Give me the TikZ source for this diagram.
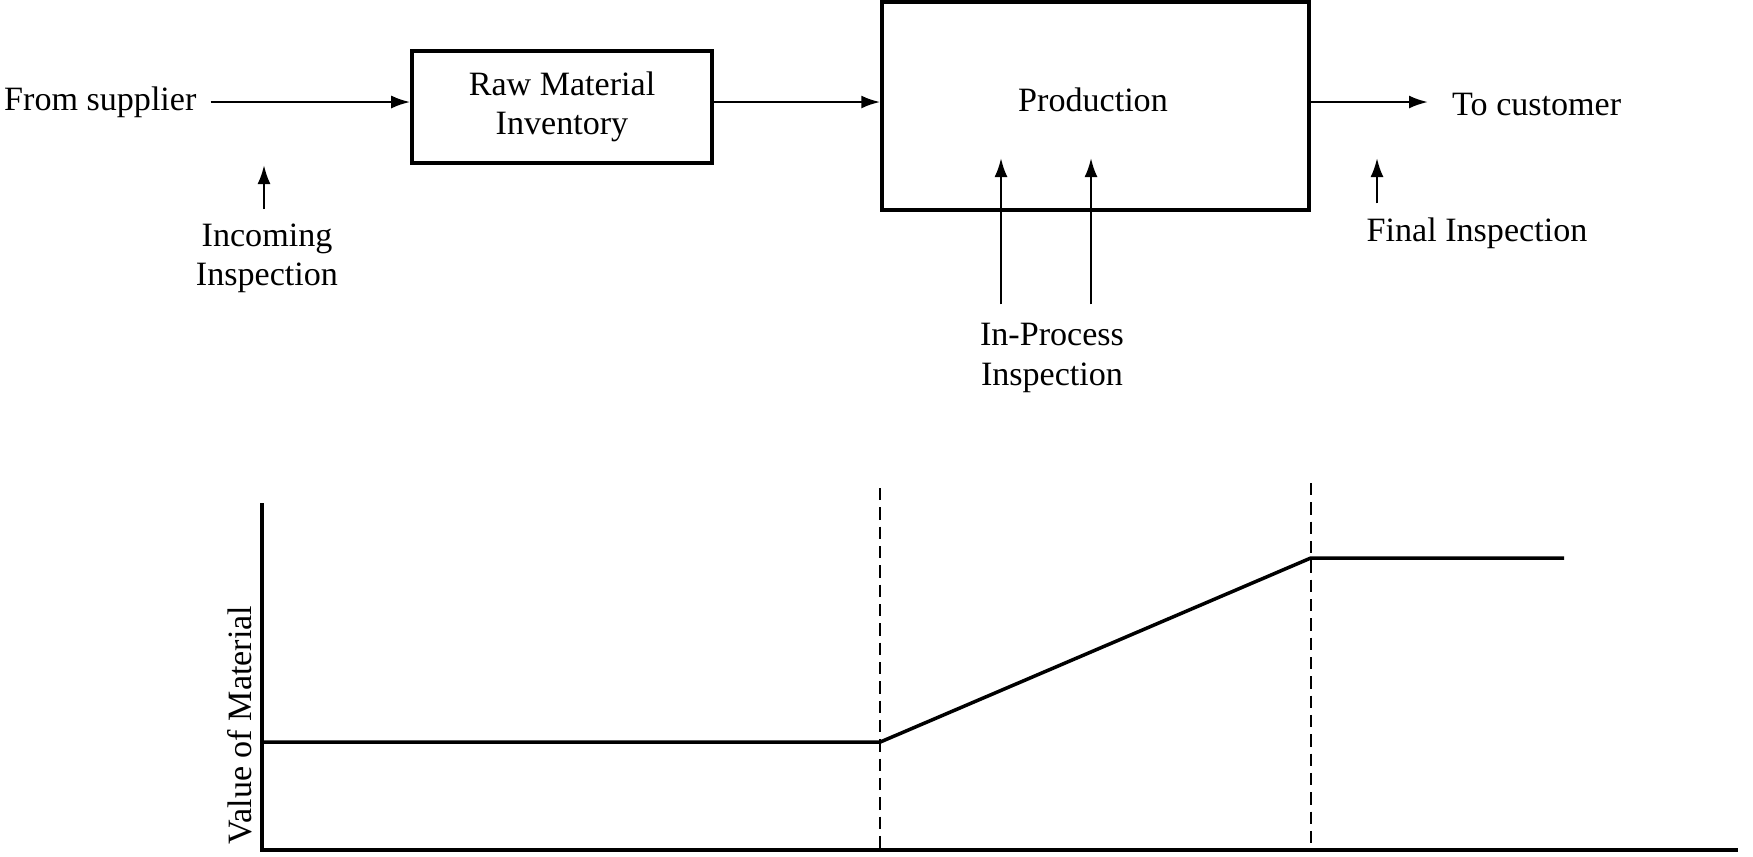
\documentclass[tikz,border=0pt]{standalone}
\usepackage{fontspec}
\setmainfont{Liberation Serif}
\usetikzlibrary{arrows.meta,positioning}

\begin{document}
\begin{tikzpicture}[
	box/.style={draw,line width=1pt,inner sep=0pt,align=center},
	lbl/.style={inner sep=1pt,align=center},
	flow/.style={-{Latex[length=1.9mm,width=1.3mm]},line width=0.7pt},
	axis/.style={line width=1pt},
	marker/.style={dash pattern=on 3.5pt off 2pt,line width=0.7pt},
	font=\fontsize{9.7}{11.2}\selectfont
]
	\useasboundingbox (0,0) rectangle (17.53,-8.56);

	% flow of material
	\node[lbl,anchor=west] (supplier) at (0,-1.02) {From supplier};
	\node[box,minimum width=3cm,minimum height=1.12cm] (rawinv) at (5.62,-1.07) {Raw Material\\Inventory};
	\node[box,minimum width=4.27cm,minimum height=2.08cm] (prod) at (10.955,-1.06) {};
	\node[lbl] (prodlbl) at (10.93,-1.0) {Production};
	\node[lbl,anchor=west] (customer) at (14.48,-1.04) {To customer};

	\draw[flow] ([xshift=1mm]supplier.east) -- (supplier.east -| rawinv.west);
	\draw[flow] (rawinv.east |- supplier.east) -- (supplier.east -| prod.west);
	\draw[flow] (prod.east |- supplier.east) -- ([xshift=-2mm]customer.west |- supplier.east);

	% inspection points
	\node[lbl] (incoming) at (2.67,-2.58) {Incoming\\Inspection};
	\node[lbl] (inproc) at (10.52,-3.58) {In-Process\\Inspection};
	\node[lbl] (final) at (14.77,-2.33) {Final Inspection};

	\coordinate (inctip) at (2.64,-1.65);
	\coordinate (iptip1) at (10.01,-1.58);
	\coordinate (iptip2) at (10.91,-1.58);
	\coordinate (fintip) at (13.77,-1.58);

	\draw[flow] ([yshift=1mm]inctip |- incoming.north) -- (inctip);
	\foreach \i in {1,2}
		\draw[flow] ([yshift=1.5mm]iptip\i |- inproc.north) -- (iptip\i);
	\draw[flow] ([yshift=1mm]fintip |- final.north) -- (fintip);

	% value of material
	\coordinate (O) at (2.62,-8.50);
	\draw[axis] (2.62,-5.03) -- (O) -- (17.38,-8.50);
	\draw[marker] (prod.west |- 0,-4.88) -- (prod.west |- O);
	\draw[marker] (prod.east |- 0,-4.83) -- (prod.east |- O);
	\draw[axis] (2.62,-7.42) -- (prod.west |- 0,-7.42) -- (prod.east |- 0,-5.58) -- (15.64,-5.58);

	\node[lbl,rotate=90] (valuelbl) at (2.40,-7.25) {Value of Material};

\end{tikzpicture}
\end{document}
